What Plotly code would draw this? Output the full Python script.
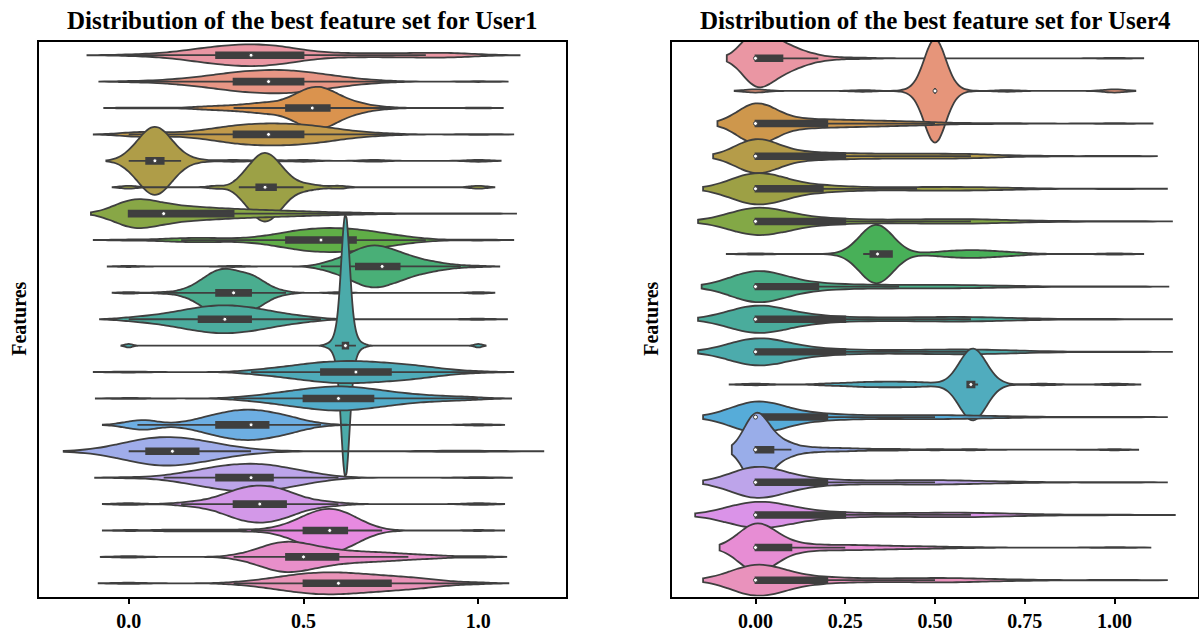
import math
import colorsys
import numpy as np
import plotly.graph_objects as go

# ---------------------------------------------------------------------------
# Data: each feature is stored as sample values and how often each occurs.
# ---------------------------------------------------------------------------
user1_features = [f"Feature {i}" for i in range(1, 22)]
user1_values = [
    [0, .05, .1, .15, .2, .25, .3, .35, .4, .45, .5, .55, .6, .65, .7, .75, .8, .85, .9, .95, 1.0],
    [0, .05, .1, .15, .2, .25, .3, .35, .4, .45, .5, .55, .6, .65, .7, .75, 1.0],
    [0, .1, .2, .25, .3, .35, .4, .45, .475, .5, .525, .55, .575, .6, .625, .65, .675, .7, .75, 1.0],
    [0, .03, .06, .09, .15, .2, .25, .3, .35, .4, .45, .5, .55, .6, .65, .7, .75, 1.0],
    [0, .025, .05, .075, .1, .125, .15, .2, .3, .4, .5, .7, 1.0],
    [0, .25, .315, .34, .365, .39, .415, .44, .465, .5, .54, .6, 1.0],
    [0, .05, .1, .15, .2, .25, .3, .35, .4, .45, .5, .55, .6, .65, .7, .8, .9, 1.0],
    [0, .1, .15, .2, .25, .3, .35, .4, .45, .5, .55, .6, .65, .7, .75, .8, .85, 1.0],
    [0, .3, .55, .575, .6, .625, .65, .675, .7, .725, .75, .775, .8, .825, .85, .875, .9, .925, .95, 1.0],
    [0, .1, .15, .175, .2, .225, .25, .275, .3, .325, .35, .375, .4, .425, .45, .6, 1.0],
    [0, .05, .1, .15, .2, .25, .3, .35, .4, .45, .5, .55, 1.0],
    [0, .57, .59, .6, .612, .62, .628, .64, .65, .67, 1.0],
    [0, .35, .4, .45, .5, .55, .6, .65, .7, .75, .8, .85, .9, .95, 1.0],
    [0, .3, .35, .4, .45, .5, .55, .6, .65, .7, .75, .8, .85, .9, .95, 1.0],
    [0, .025, .05, .075, .15, .2, .25, .3, .35, .4, .45, .5, .55, 1.0],
    [0, .025, .05, .075, .1, .125, .15, .175, .2, .225, .25, .275, .3, .35, .9, .95, 1.0],
    [0, .1, .15, .2, .25, .3, .35, .4, .45, .5, .55, .6, 1.0],
    [0, .15, .2, .25, .3, .35, .4, .45, .5, .55, .6, 1.0],
    [0, .1, .15, .2, .25, .3, .35, .4, .425, .45, .475, .5, .525, .55, .575, .6, .625, .65, .675, .7, .725, 1.0],
    [0, .3, .35, .4, .45, .5, .55, .6, .65, .7, .75, .8, .85, .9, 1.0],
    [0, .3, .35, .4, .45, .5, .55, .6, .65, .7, .75, .8, .85, .9, .95, 1.0],
]
user1_counts = [
    [2, 2, 4, 8, 14, 18, 22, 24, 22, 18, 10, 5, 4, 4, 4, 4, 4, 5, 6, 4, 2],
    [1, 1, 2, 4, 6, 9, 12, 14, 15, 15, 13, 10, 7, 4, 2, 1, 1],
    [1, 1, 2, 3, 4, 6, 9, 7, 9, 13, 17, 18, 13, 9, 6, 4, 3, 2, 1, 1],
    [2, 2, 2, 2, 2, 4, 7, 10, 12, 12, 12, 11, 9, 6, 3, 2, 1, 1],
    [3, 6, 12, 16, 12, 6, 3, 1, 1, 1, 1, 1, 1],
    [1, 1, 3, 6, 10, 12, 10, 6, 3, 2, 1, 1, 1],
    [42, 23, 18, 13, 11, 10, 8, 7, 6, 5, 4, 3, 2, 2, 1, 1, 1, 1],
    [1, 1, 2, 2, 2, 1, 2, 4, 7, 10, 11, 11, 10, 8, 5, 3, 1, 1],
    [1, 1, 2, 3, 5, 7, 10, 13, 14, 13, 11, 9, 7, 5, 4, 3, 2, 1, 1, 1],
    [1, 1, 2, 3, 6, 10, 13, 14, 13, 11, 11, 8, 4, 2, 1, 1, 1],
    [2, 3, 5, 8, 11, 13, 13, 11, 8, 5, 3, 1, 1],
    [1, 1, 3, 4, 20, 45, 20, 4, 3, 1, 1],
    [1, 2, 3, 5, 7, 9, 10, 10, 9, 8, 7, 5, 3, 1, 1],
    [1, 1, 2, 4, 6, 8, 10, 11, 10, 8, 6, 4, 3, 2, 2, 1],
    [2, 2, 3, 2, 2, 5, 9, 12, 13, 11, 8, 4, 1, 1],
    [6, 8, 10, 11, 10, 9, 8, 7, 6, 5, 4, 3, 2, 1, 1, 1, 1],
    [1, 2, 4, 7, 10, 12, 13, 12, 9, 6, 3, 1, 1],
    [1, 1, 2, 4, 9, 12, 12, 9, 4, 2, 1, 1],
    [1, 1, 1, 1, 1, 1, 1, 1, 2, 3, 5, 8, 10, 12, 13, 12, 10, 7, 4, 2, 1, 1],
    [2, 2, 8, 18, 24, 20, 14, 10, 8, 7, 6, 4, 3, 2, 2],
    [1, 1, 2, 4, 6, 8, 9, 9, 8, 7, 6, 5, 4, 2, 1, 1],
]
user1_bandwidth = [0.059, 0.042, 0.035, 0.05, 0.032, 0.023, 0.054, 0.05, 0.03, 0.023, 0.041,
                   0.0105, 0.05, 0.047, 0.037, 0.093, 0.048, 0.037, 0.037, 0.04, 0.043]

user4_features = [f"Feature {i}" for i in range(1, 18)]
user4_values = [
    [0, .025, .05, .075, .1, .125, .15, .175, .2, .25, .3, 1.0],
    [0, .3, .44, .47, .5, .53, .56, .7, 1.0],
    [0, .05, .1, .15, .2, .25, .3, .35, .4, .45, .5, .6, .7, 1.0],
    [0, .05, .1, .15, .2, .25, .3, .35, .4, .45, .5, .55, .6, .65, .7, .8, 1.0],
    [0, .05, .1, .15, .2, .25, .3, .35, .4, .45, .5, .55, .6, .65, .7, .75, 1.0],
    [0, .05, .1, .15, .2, .25, .3, .35, .4, .45, .5, .55, .6, .65, .7, .75, .85, 1.0],
    [0, .3, .32, .34, .36, .38, .5, .55, .6, .65, .7, .75, 1.0],
    [0, .05, .1, .15, .2, .25, .3, .35, .4, .45, .5, .55, .6, .65, .7, .75, 1.0],
    [0, .05, .1, .15, .2, .25, .3, .35, .4, .45, .5, .55, .6, .65, .7, .75, .85, 1.0],
    [0, .05, .1, .15, .2, .25, .3, .35, .4, .45, .5, .55, .6, .65, .7, .75, .8, 1.0],
    [0, .2, .25, .3, .35, .4, .45, .5, .59, .6, .61, .62, .65, .8, 1.0],
    [0, .05, .1, .15, .2, .25, .3, .35, .4, .45, .5, .55, .6, .65, .7, .75, 1.0],
    [0, .025, .05, .075, .1, .15, .2, .25, .3, .35, .4, .5, .6, 1.0],
    [0, .05, .1, .15, .2, .25, .3, .35, .4, .45, .5, .55, .6, .65, .7, .75, 1.0],
    [0, .05, .1, .15, .2, .25, .3, .35, .4, .45, .5, .55, .6, .65, .7, .75, .85, 1.0],
    [0, .05, .1, .15, .2, .25, .3, .35, .4, .45, .5, .6, 1.0],
    [0, .05, .1, .15, .2, .25, .3, .35, .4, .45, .5, .55, .6, .65, .7, .75, 1.0],
]
user4_counts = [
    [58, 7, 13, 12, 8, 5, 3, 2, 1, 1, 1, 1],
    [2, 1, 1, 3, 60, 3, 1, 1, 2],
    [55, 7, 6, 5, 5, 4, 4, 3, 3, 2, 2, 1, 1, 1],
    [55, 6, 6, 5, 4, 4, 3, 3, 3, 3, 3, 3, 3, 2, 1, 1, 1],
    [55, 5, 6, 5, 4, 2, 2, 1, 2, 2, 2, 2, 2, 2, 1, 1, 1],
    [55, 5, 6, 5, 4, 2, 2, 2, 2, 2, 3, 3, 3, 2, 2, 1, 1, 1],
    [1, 8, 15, 20, 12, 5, 2, 3, 4, 3, 2, 1, 1],
    [56, 6, 6, 4, 4, 2, 2, 2, 2, 2, 2, 2, 2, 1, 1, 1, 1],
    [55, 5, 6, 5, 4, 2, 2, 2, 2, 2, 3, 3, 3, 2, 2, 1, 1, 1],
    [55, 5, 6, 5, 4, 2, 2, 2, 2, 2, 3, 3, 3, 3, 2, 1, 1, 1],
    [1, 1, 1, 2, 2, 2, 2, 1, 8, 16, 16, 8, 1, 1, 1],
    [56, 5, 6, 5, 4, 2, 2, 2, 2, 2, 3, 2, 2, 1, 1, 1, 1],
    [60, 6, 8, 6, 4, 3, 2, 2, 1, 1, 1, 1, 1, 1],
    [55, 5, 6, 5, 3, 2, 2, 2, 2, 3, 3, 2, 2, 1, 1, 1, 1],
    [55, 5, 6, 5, 4, 2, 2, 2, 2, 2, 3, 3, 3, 2, 2, 1, 1, 1],
    [60, 10, 6, 3, 3, 3, 3, 2, 2, 1, 2, 1, 1],
    [55, 6, 6, 4, 4, 2, 2, 2, 2, 2, 3, 3, 2, 1, 1, 1, 1],
]
user4_bandwidth = [0.04, 0.029, 0.053, 0.059, 0.073, 0.08, 0.04, 0.075, 0.08, 0.08,
                   0.036, 0.073, 0.033, 0.073, 0.084, 0.05, 0.073]

# ---------------------------------------------------------------------------
# Colours: HUSL hue wheel (l=0.7, s=0.9), desaturated to 75 %.
# ---------------------------------------------------------------------------
_M = [[3.240969941904521, -1.537383177570093, -0.498610760293],
      [-0.96924363628087, 1.87596750150772, 0.041555057407175],
      [0.055630079696993, -0.20397695888897, 1.056971514242878]]
_REF_U, _REF_V = 0.19783000664283, 0.46831999493879
_KAPPA, _EPS = 903.2962962, 0.0088564516


def _max_chroma(L, H):
    hrad = math.radians(H)
    sin_h, cos_h = math.sin(hrad), math.cos(hrad)
    sub1 = (L + 16) ** 3 / 1560896.0
    sub2 = sub1 if sub1 > 0.008856 else L / 903.3
    best = float("inf")
    for m1, m2, m3 in _M:
        top = (0.99915 * m1 + 1.05122 * m2 + 1.14460 * m3) * sub2
        rbottom = 0.86330 * m3 - 0.17266 * m2
        lbottom = 0.12949 * m3 - 0.38848 * m1
        bottom = (rbottom * sin_h + lbottom * cos_h) * sub2
        for t in (0.0, 1.0):
            c = L * (top - 1.05122 * t) / (bottom + 0.17266 * sin_h * t)
            if 0.0 < c < best:
                best = c
    return best


def _husl_to_rgb(h, s, l):
    c = _max_chroma(l, h) / 100.0 * s
    hrad = math.radians(h)
    u, v = math.cos(hrad) * c, math.sin(hrad) * c
    t = (l + 16.0) / 116.0
    y = t ** 3 if t ** 3 > _EPS else (116.0 * t - 16.0) / _KAPPA
    var_u = u / (13.0 * l) + _REF_U
    var_v = v / (13.0 * l) + _REF_V
    x = -(9.0 * y * var_u) / ((var_u - 4.0) * var_v - var_u * var_v)
    z = (9.0 * y - 15.0 * var_v * y - var_v * x) / (3.0 * var_v)
    out = []
    for row in _M:
        lin = row[0] * x + row[1] * y + row[2] * z
        srgb = 12.92 * lin if lin <= 0.0031308 else 1.055 * lin ** (1 / 2.4) - 0.055
        out.append(min(max(srgb, 0.0), 1.0))
    return out


def husl_colors(n):
    cols = []
    for i in range(n):
        hue = ((i / n) + 0.01) % 1 * 359
        r, g, b = _husl_to_rgb(hue, 0.9 * 99, 0.7 * 99)
        hh, ll, ss = colorsys.rgb_to_hls(r, g, b)
        r, g, b = colorsys.hls_to_rgb(hh, ll, ss * 0.75)
        cols.append("rgb(%d,%d,%d)" % (round(r * 255), round(g * 255), round(b * 255)))
    return cols


def kde_peak(sample, bw):
    """Highest value of the Gaussian kernel density over the violin span."""
    lo, hi = sample.min() - 2 * bw, sample.max() + 2 * bw
    n = int(np.ceil((hi - lo) / (bw / 3)))
    t = np.linspace(lo, hi, n + 1)
    vals, cnt = np.unique(sample, return_counts=True)
    dens = (cnt[None, :] * np.exp(-0.5 * ((t[:, None] - vals[None, :]) / bw) ** 2)).sum(axis=1)
    return float(dens.max() / (len(sample) * bw * math.sqrt(2 * math.pi)))


# ---------------------------------------------------------------------------
# Figure
# ---------------------------------------------------------------------------
FONT = "Liberation Serif, Times New Roman, serif"
DARK = "#3f3f3f"
fig = go.Figure()


def add_panel(names, values, counts, bws, xaxis, yaxis, full_width, box_half):
    """Violins share one density scale: the densest one spans full_width rows."""
    colors = husl_colors(len(names))
    samples = [np.repeat(np.asarray(v, float), c) for v, c in zip(values, counts)]
    peaks = [kde_peak(s, bw) for s, bw in zip(samples, bws)]
    top = max(peaks)
    medians = []
    for i, name in enumerate(names):
        w = full_width * peaks[i] / top
        medians.append(float(np.median(samples[i])))
        fig.add_trace(go.Violin(
            x=samples[i], y0=i, name=name, orientation="h", side="both",
            xaxis=xaxis, yaxis=yaxis,
            bandwidth=bws[i], spanmode="soft", points=False,
            scalemode="width", width=w,
            fillcolor=colors[i], line=dict(color=DARK, width=1.8),
            box=dict(visible=True, width=min(1.0, box_half / (w / 2)), fillcolor=DARK,
                     line=dict(color=DARK, width=1.8)),
            meanline=dict(visible=False), hoverinfo="skip", showlegend=False,
        ))
    fig.add_trace(go.Scatter(
        x=medians, y=list(range(len(names))), mode="markers", xaxis=xaxis, yaxis=yaxis,
        marker=dict(color="white", size=4, line=dict(color=DARK, width=1)),
        hoverinfo="skip", showlegend=False,
    ))


add_panel(user1_features, user1_values, user1_counts, user1_bandwidth, "x", "y", 9.87, 0.11)
add_panel(user4_features, user4_values, user4_counts, user4_bandwidth, "x2", "y2", 3.17, 0.087)

W, H = 1199, 637
y_dom = [1 - 596.5 / H, 1 - 42 / H]
axis_common = dict(showline=True, linecolor="black", linewidth=1.8, mirror=True,
                   showgrid=False, zeroline=False)
tickfont = dict(family=FONT, size=20, color="black", weight="bold")

fig.update_layout(
    width=W, height=H, margin=dict(l=0, r=0, t=0, b=0),
    paper_bgcolor="white", plot_bgcolor="white", violinmode="overlay",
    xaxis=dict(domain=[39 / W, 566 / W], range=[-0.2566, 1.2509], tick0=0, dtick=0.5,
               tickformat=".1f", ticks="outside", ticklen=6, tickwidth=1.6, tickcolor="black",
               tickfont=tickfont, anchor="y", **axis_common),
    yaxis=dict(domain=y_dom, range=[20.5, -0.5], showticklabels=False, ticks="",
               anchor="x", **axis_common),
    xaxis2=dict(domain=[672 / W, 1198 / W], range=[-0.2326, 1.2326], tick0=0, dtick=0.25,
                tickformat=".2f", ticks="outside", ticklen=6, tickwidth=1.6, tickcolor="black",
                tickfont=tickfont, anchor="y2", **axis_common),
    yaxis2=dict(domain=y_dom, range=[16.5, -0.5], showticklabels=False, ticks="",
                anchor="x2", **axis_common),
)

title_font = dict(family=FONT, size=25, color="black", weight="bold")
label_font = dict(family=FONT, size=20, color="black", weight="bold")
fig.add_annotation(text="Distribution of the best feature set for User1", x=302.5 / W, y=1 - 21 / H,
                   xref="paper", yref="paper", showarrow=False, font=title_font,
                   xanchor="center", yanchor="middle")
fig.add_annotation(text="Distribution of the best feature set for User4", x=935 / W, y=1 - 21 / H,
                   xref="paper", yref="paper", showarrow=False, font=title_font,
                   xanchor="center", yanchor="middle")
for xpx in (19.5, 651.5):
    fig.add_annotation(text="Features", x=xpx / W, y=1 - 319.25 / H, xref="paper", yref="paper",
                       showarrow=False, textangle=-90, font=label_font,
                       xanchor="center", yanchor="middle")

fig.write_html("out.html")
